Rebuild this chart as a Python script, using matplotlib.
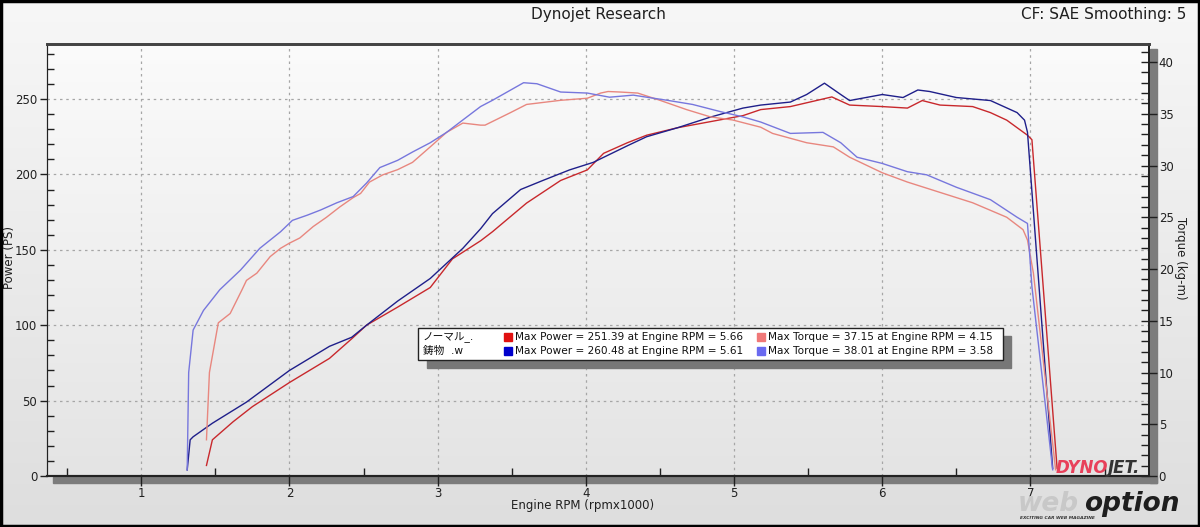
import numpy as np
import matplotlib
matplotlib.use("Agg")
import matplotlib.pyplot as plt
from matplotlib.patches import Rectangle
from matplotlib.colors import LinearSegmentedColormap

plt.rcParams['font.family'] = ['DejaVu Sans', 'Noto Sans CJK JP']

# ---- data (rpm in x1000) ----
normal_power_rpm = [1.44, 1.48, 1.62, 1.75, 2.00, 2.27, 2.42, 2.52, 2.73, 2.95, 3.10, 3.29,
                    3.37, 3.60, 3.83, 4.01, 4.12, 4.28, 4.41, 4.62, 4.84, 5.06, 5.18, 5.38,
                    5.66, 5.78, 6.00, 6.17, 6.27, 6.39, 6.61, 6.73, 6.84, 6.98, 7.01, 7.18]
normal_power = [7, 24, 36, 46, 62, 78, 91, 100, 112, 125, 144, 156,
                162, 181, 196, 203, 214, 221, 226, 231, 235, 239, 243, 245,
                251.4, 246, 245, 244, 249, 246, 245, 241, 236, 226, 223, 5]

cast_power_rpm = [1.31, 1.33, 1.35, 1.48, 1.71, 2.00, 2.27, 2.42, 2.52, 2.73, 2.95, 3.17,
                  3.29, 3.37, 3.56, 3.71, 3.89, 4.05, 4.28, 4.41, 4.62, 4.84, 5.06, 5.18,
                  5.38, 5.49, 5.61, 5.72, 5.78, 6.00, 6.14, 6.24, 6.32, 6.50, 6.73, 6.91,
                  6.96, 6.98, 7.15]
cast_power = [4, 24, 26, 35, 49, 70, 86, 92, 100, 116, 131, 151,
              164, 174, 190, 196, 203, 208, 219, 225, 231, 238, 244, 246,
              248, 253, 260.5, 253, 249, 253, 251, 256, 255, 251, 249, 241,
              236, 228, 5]

normal_torque_rpm = [1.44, 1.46, 1.52, 1.60, 1.68, 1.71, 1.78, 1.87, 1.94, 2.00, 2.07, 2.16,
                     2.25, 2.34, 2.43, 2.48, 2.54, 2.63, 2.73, 2.83, 2.95, 3.06, 3.17, 3.29,
                     3.32, 3.49, 3.60, 3.83, 4.01, 4.10, 4.15, 4.23, 4.35, 4.50, 4.68, 4.84,
                     4.99, 5.18, 5.26, 5.49, 5.67, 5.78, 6.00, 6.17, 6.39, 6.61, 6.84, 6.95,
                     6.98, 7.02, 7.17]
normal_torque = [3.5, 10.0, 14.8, 15.7, 18.0, 18.9, 19.6, 21.2, 22.0, 22.5, 23.0, 24.1,
                 25.0, 26.0, 26.9, 27.3, 28.4, 29.1, 29.6, 30.3, 31.8, 33.2, 34.1, 33.9,
                 33.9, 35.1, 35.9, 36.3, 36.5, 37.0, 37.15, 37.1, 37.0, 36.3, 35.4, 34.7,
                 34.4, 33.7, 33.1, 32.2, 31.8, 30.8, 29.3, 28.4, 27.4, 26.4, 25.0, 23.8,
                 22.8, 19.6, 0.6]

cast_torque_rpm = [1.31, 1.32, 1.35, 1.42, 1.53, 1.67, 1.80, 1.94, 2.02, 2.12, 2.21, 2.32,
                   2.43, 2.52, 2.61, 2.73, 2.83, 2.95, 3.06, 3.17, 3.29, 3.37, 3.58, 3.67,
                   3.83, 4.01, 4.16, 4.32, 4.41, 4.55, 4.72, 4.91, 5.06, 5.18, 5.38, 5.60,
                   5.72, 5.83, 6.00, 6.17, 6.30, 6.50, 6.73, 6.91, 6.98, 7.01, 7.15]
cast_torque = [0.6, 10.0, 14.1, 16.0, 18.0, 19.9, 22.0, 23.6, 24.7, 25.2, 25.7, 26.4,
               27.0, 28.3, 29.8, 30.5, 31.3, 32.2, 33.2, 34.4, 35.7, 36.3, 38.0, 37.9,
               37.1, 37.0, 36.6, 36.8, 36.6, 36.3, 35.9, 35.2, 34.7, 34.2, 33.1, 33.2,
               32.2, 30.8, 30.2, 29.4, 29.1, 27.9, 26.7, 25.0, 24.4, 18.3, 0.6]

run_names = ['ノーマル_.', '鋳物  .w']
power_labels = ['Max Power = 251.39 at Engine RPM = 5.66',
                'Max Power = 260.48 at Engine RPM = 5.61']
torque_labels = ['Max Torque = 37.15 at Engine RPM = 4.15',
                 'Max Torque = 38.01 at Engine RPM = 3.58']

W, H = 1200, 527


def fx(px):
    return px / W


def fy(py):
    return 1 - py / H


fig = plt.figure(figsize=(12, 5.27), dpi=100)

# window background gradient
bg = fig.add_axes([0, 0, 1, 1], zorder=-5)
bg_cmap = LinearSegmentedColormap.from_list('bg', ['#dedede', '#f7f7f7'])
bg.imshow(np.linspace(0, 1, 256).reshape(-1, 1), cmap=bg_cmap, aspect='auto',
          extent=[0, 1, 0, 1], origin='lower')
bg.axis('off')
fig.patches.append(Rectangle((0.001, 0.002), 0.998, 0.996, transform=fig.transFigure,
                             fill=False, edgecolor='black', linewidth=2.5, zorder=10))

ax_rect = [fx(47), fy(476), fx(1149) - fx(47), fy(44) - fy(476)]

# plot area gradient
pbg = fig.add_axes(ax_rect, zorder=-3)
p_cmap = LinearSegmentedColormap.from_list('pbg', ['#e4e4e4', '#fbfbfb'])
pbg.imshow(np.linspace(0, 1, 256).reshape(-1, 1), cmap=p_cmap, aspect='auto',
           extent=[0, 1, 0, 1], origin='lower')
pbg.axis('off')

# 3D-ish grey bars under x axis and right of torque axis
fig.patches.append(Rectangle((fx(53), fy(483)), fx(1157) - fx(53), fy(477) - fy(483),
                             transform=fig.transFigure, color='#7c7c7c', zorder=-1))
fig.patches.append(Rectangle((fx(1150), fy(483)), fx(1157) - fx(1150), fy(49) - fy(483),
                             transform=fig.transFigure, color='#7c7c7c', zorder=-1))

ax = fig.add_axes(ax_rect)
ax.set_facecolor('none')
ax2 = ax.twinx()

ax.plot(normal_power_rpm, normal_power, color='#c8282c', lw=1.0)
ax.plot(cast_power_rpm, cast_power, color='#1f1f8a', lw=1.0)
ax2.plot(normal_torque_rpm, normal_torque, color='#e8877f', lw=1.0)
ax2.plot(cast_torque_rpm, cast_torque, color='#7777dd', lw=1.0)

ax.set_xlim(0.364, 7.80)
ax.set_ylim(0, 286.5)
ax2.set_ylim(0, 41.74)

ax.set_xticks(range(1, 8))
ax.set_xticks(np.arange(0.5, 8, 1), minor=True)
ax.set_yticks(range(0, 251, 50))
ax.set_yticks(range(0, 281, 10), minor=True)
ax2.set_yticks(range(0, 41, 5))
ax2.set_yticks(range(0, 42, 1), minor=True)

ax.tick_params(axis='x', which='major', direction='out', length=7, width=1,
               color='#202020', labelsize=8.5, labelcolor='#202020', pad=1)
ax.tick_params(axis='x', which='minor', direction='in', length=6, width=1, color='#202020')
ax.tick_params(axis='y', which='major', direction='out', length=5, width=1,
               color='#202020', labelsize=8.5, labelcolor='#202020', pad=2)
ax.tick_params(axis='y', which='minor', direction='in', length=5, width=1, color='#202020')
ax2.tick_params(axis='y', which='major', direction='inout', length=12, width=1,
                color='#202020', labelsize=8.5, labelcolor='#202020', pad=1)
ax2.tick_params(axis='y', which='minor', direction='in', length=6, width=1, color='#202020')

ax.grid(which='major', color='#a6a6a6', linestyle=(0, (2, 3)), linewidth=0.9)

for a in (ax, ax2):
    a.spines['top'].set_color('#444444')
    a.spines['top'].set_linewidth(2)
    a.spines['left'].set_color('#222222')
    a.spines['bottom'].set_color('#222222')
    a.spines['bottom'].set_linewidth(1.5)
    a.spines['right'].set_color('#222222')
    a.spines['right'].set_linewidth(1.3)

# titles and axis labels
fig.text(fx(598), fy(15), 'Dynojet Research', ha='center', va='center', fontsize=11, color='#202020')
fig.text(fx(1186), fy(15), 'CF: SAE Smoothing: 5', ha='right', va='center', fontsize=11, color='#202020')
fig.text(fx(583), fy(506), 'Engine RPM (rpmx1000)', ha='center', va='center', fontsize=8.5, color='#202020')
fig.text(fx(10), fy(258), 'Power (PS)', ha='center', va='center', rotation=90, fontsize=8.5, color='#202020')
fig.text(fx(1181), fy(258), 'Torque (kg-m)', ha='center', va='center', rotation=270, fontsize=8.5, color='#202020')

# legend box with shadow
fig.patches.append(Rectangle((fx(427), fy(368)), fx(1011) - fx(427), fy(336) - fy(368),
                             transform=fig.transFigure, color='#777777', zorder=4))
fig.patches.append(Rectangle((fx(418), fy(360)), fx(1003) - fx(418), fy(328) - fy(360),
                             transform=fig.transFigure, facecolor='white', edgecolor='#222222',
                             linewidth=1, zorder=5))
power_colors = ['#e01010', '#0000cc']
torque_colors = ['#f07878', '#6a6af0']
for i, name in enumerate(run_names):
    yy = 337 + 14 * i
    fig.text(fx(423), fy(yy), name, ha='left', va='center', fontsize=7.7, color='#111111', zorder=6)
    fig.patches.append(Rectangle((fx(504), fy(yy + 4)), fx(8), fx(8) * W / H,
                                 transform=fig.transFigure, color=power_colors[i], zorder=6))
    fig.text(fx(515), fy(yy), power_labels[i], ha='left', va='center', fontsize=7.6, color='#111111', zorder=6)
    fig.patches.append(Rectangle((fx(757), fy(yy + 4)), fx(8), fx(8) * W / H,
                                 transform=fig.transFigure, color=torque_colors[i], zorder=6))
    fig.text(fx(768), fy(yy), torque_labels[i], ha='left', va='center', fontsize=7.6, color='#111111', zorder=6)

# watermarks
fig.text(fx(1056), fy(473), 'DYNO', ha='left', va='baseline', fontsize=12, fontweight='bold',
         fontstyle='italic', color='#e8405a', zorder=6)
fig.text(fx(1108), fy(473), 'JET.', ha='left', va='baseline', fontsize=12, fontweight='bold',
         fontstyle='italic', color='#333333', zorder=6)
fig.text(fx(1018), fy(511), 'web', ha='left', va='baseline', fontsize=19, fontweight='heavy',
         fontstyle='italic', color='#c8c8c8', zorder=6)
fig.text(fx(1084), fy(511), 'option', ha='left', va='baseline', fontsize=19, fontweight='heavy',
         fontstyle='italic', color='#1e1e1e', zorder=6)
fig.text(fx(1020), fy(518), 'EXCITING CAR WEB MAGAZINE', ha='left', va='center', fontsize=3.2,
         fontweight='bold', fontstyle='italic', color='#333333', zorder=6)

fig.savefig('out.png', dpi=100)
